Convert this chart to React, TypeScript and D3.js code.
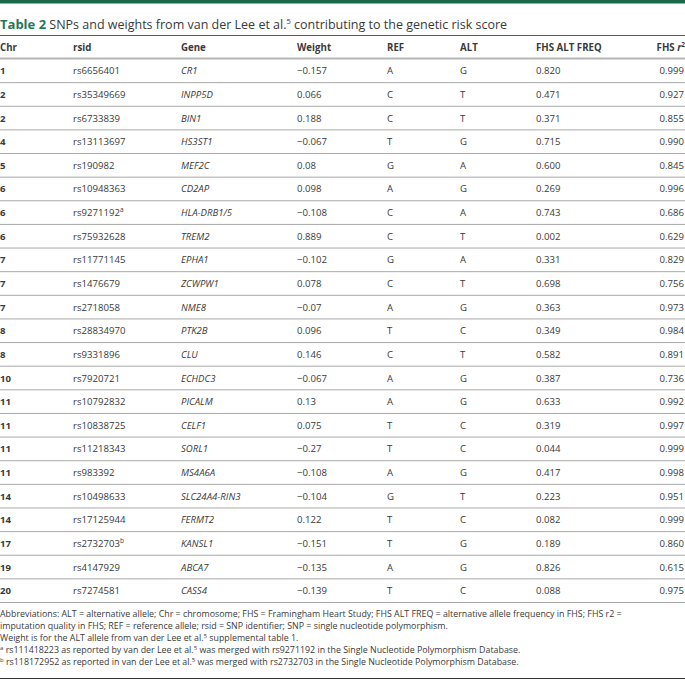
import React from 'react';
import * as d3 from 'd3';

// Table values
const chr = ['1', '2', '2', '4', '5', '6', '6', '6', '7', '7', '7', '8', '8', '10', '11', '11', '11', '11', '14', '14', '17', '19', '20'];
const rsid = ['rs6656401', 'rs35349669', 'rs6733839', 'rs13113697', 'rs190982', 'rs10948363', 'rs9271192', 'rs75932628', 'rs11771145', 'rs1476679', 'rs2718058', 'rs28834970', 'rs9331896', 'rs7920721', 'rs10792832', 'rs10838725', 'rs11218343', 'rs983392', 'rs10498633', 'rs17125944', 'rs2732703', 'rs4147929', 'rs7274581'];
const rsidNote = ['', '', '', '', '', '', 'a', '', '', '', '', '', '', '', '', '', '', '', '', '', 'b', '', ''];
const gene = ['CR1', 'INPP5D', 'BIN1', 'HS3ST1', 'MEF2C', 'CD2AP', 'HLA-DRB1/5', 'TREM2', 'EPHA1', 'ZCWPW1', 'NME8', 'PTK2B', 'CLU', 'ECHDC3', 'PICALM', 'CELF1', 'SORL1', 'MS4A6A', 'SLC24A4-RIN3', 'FERMT2', 'KANSL1', 'ABCA7', 'CASS4'];
const weight = ['−0.157', '0.066', '0.188', '−0.067', '0.08', '0.098', '−0.108', '0.889', '−0.102', '0.078', '−0.07', '0.096', '0.146', '−0.067', '0.13', '0.075', '−0.27', '−0.108', '−0.104', '0.122', '−0.151', '−0.135', '−0.139'];
const ref = ['A', 'C', 'C', 'T', 'G', 'A', 'C', 'C', 'G', 'C', 'A', 'T', 'C', 'A', 'A', 'T', 'T', 'A', 'G', 'T', 'T', 'A', 'T'];
const alt = ['G', 'T', 'T', 'G', 'A', 'G', 'A', 'T', 'A', 'T', 'G', 'C', 'T', 'G', 'G', 'C', 'C', 'G', 'T', 'C', 'G', 'G', 'C'];
const altFreq = ['0.820', '0.471', '0.371', '0.715', '0.600', '0.269', '0.743', '0.002', '0.331', '0.698', '0.363', '0.349', '0.582', '0.387', '0.633', '0.319', '0.044', '0.417', '0.223', '0.082', '0.189', '0.826', '0.088'];
const r2 = ['0.999', '0.927', '0.855', '0.990', '0.845', '0.996', '0.686', '0.629', '0.829', '0.756', '0.973', '0.984', '0.891', '0.736', '0.992', '0.997', '0.999', '0.998', '0.951', '0.999', '0.860', '0.615', '0.975'];

const headers = ['Chr', 'rsid', 'Gene', 'Weight', 'REF', 'ALT', 'FHS ALT FREQ'];
const colX = [0, 73, 181, 297, 387, 460, 536];

const W = 685;
const H = 683;
const font = '"Open Sans", sans-serif';
const green = '#1d7a55';
const textCol = '#3a3a3a';
const lineCol = '#a8a8a8';

export default function App() {
  const idx = d3.range(chr.length);
  const y = d3.scaleBand<number>().domain(idx).range([59, 602.5]).padding(0);
  const bw = y.bandwidth();
  const mid = (i: number) => (y(i) as number) + bw / 2;

  return (
    <svg width={W} height={H} style={{ position: 'absolute', left: 0, top: 0, background: '#fff' }} fontFamily={font}>
      <rect x={0} y={0} width={W} height={3.5} fill="#17694a" />
      <text x={0} y={29} fontSize={12.5} fill={textCol}>
        <tspan fontWeight="bold" fill={green} fontSize={13}>Table 2</tspan>
        <tspan> SNPs and weights from van der Lee et al.</tspan>
        <tspan fontSize={7.5} dy={-5}>5</tspan>
        <tspan dy={5}> contributing to the genetic risk score</tspan>
      </text>
      <line x1={0} x2={W} y1={35.5} y2={35.5} stroke={green} strokeWidth={1} />

      {/* header */}
      <g fontSize={9.7} fontWeight="bold" fill={textCol}>
        {headers.map((h, c) => (
          <text key={h} x={colX[c]} y={51}>{h}</text>
        ))}
        <text x={W} y={51} textAnchor="end">
          FHS <tspan fontStyle="italic">r</tspan><tspan fontSize={6.5} dy={-4}>2</tspan>
        </text>
      </g>
      <line x1={0} x2={W} y1={58.5} y2={58.5} stroke="#b5b5b5" strokeWidth={2} />

      {/* rows */}
      <g fontSize={9.6} fill={textCol}>
        {idx.map((i) => {
          const ty = mid(i) + 3.5;
          return (
            <g key={i}>
              <text x={colX[0]} y={ty} fontWeight="bold">{chr[i]}</text>
              <text x={colX[1]} y={ty}>
                {rsid[i]}
                {rsidNote[i] && <tspan fontSize={6.5} dy={-4}>{rsidNote[i]}</tspan>}
              </text>
              <text x={colX[2]} y={ty} fontStyle="italic">{gene[i]}</text>
              <text x={colX[3]} y={ty}>{weight[i]}</text>
              <text x={colX[4]} y={ty}>{ref[i]}</text>
              <text x={colX[5]} y={ty}>{alt[i]}</text>
              <text x={colX[6]} y={ty}>{altFreq[i]}</text>
              <text x={W - 1} y={ty} textAnchor="end">{r2[i]}</text>
              <line x1={0} x2={W} y1={(y(i) as number) + bw} y2={(y(i) as number) + bw} stroke={lineCol} strokeWidth={1} />
            </g>
          );
        })}
      </g>

      {/* footnotes */}
      <g fontSize={8.85} fill={textCol}>
        <text x={0} y={617}>Abbreviations: ALT = alternative allele; Chr = chromosome; FHS = Framingham Heart Study; FHS ALT FREQ = alternative allele frequency in FHS; FHS r2 =</text>
        <text x={0} y={629}>imputation quality in FHS; REF = reference allele; rsid = SNP identifier; SNP = single nucleotide polymorphism.</text>
        <text x={0} y={641}>
          Weight is for the ALT allele from van der Lee et al.<tspan fontSize={6} dy={-3.5}>5</tspan><tspan dy={3.5}> supplemental table 1.</tspan>
        </text>
        <text x={0} y={653}>
          <tspan fontSize={6} dy={-3.5}>a</tspan><tspan dy={3.5}> rs111418223 as reported by van der Lee et al.</tspan><tspan fontSize={6} dy={-3.5}>5</tspan><tspan dy={3.5}> was merged with rs9271192 in the Single Nucleotide Polymorphism Database.</tspan>
        </text>
        <text x={0} y={665}>
          <tspan fontSize={6} dy={-3.5}>b</tspan><tspan dy={3.5}> rs118172952 as reported in van der Lee et al.</tspan><tspan fontSize={6} dy={-3.5}>5</tspan><tspan dy={3.5}> was merged with rs2732703 in the Single Nucleotide Polymorphism Database.</tspan>
        </text>
      </g>
      <line x1={0} x2={W} y1={678.5} y2={678.5} stroke="#333" strokeWidth={1} />
    </svg>
  );
}
